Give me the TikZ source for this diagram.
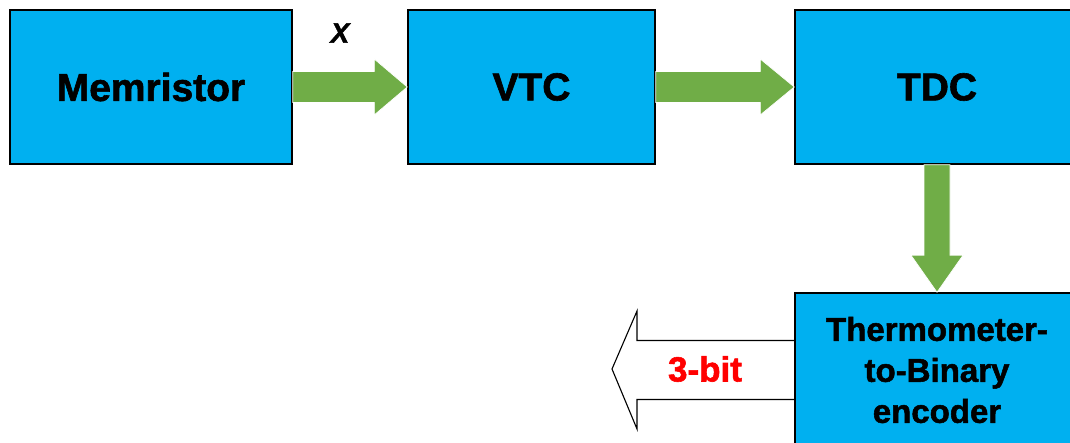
\documentclass[tikz,border=0pt]{standalone}
\usepackage{fontspec}
\setmainfont{Liberation Sans}[BoldFont={Liberation Sans Bold}, BoldItalicFont={Liberation Sans Bold Italic},
  BoldFeatures={FakeBold=1.6}, BoldItalicFeatures={FakeBold=1.6}]
\usetikzlibrary{calc}
\definecolor{boxblue}{HTML}{00B0F0}
\definecolor{arrgreen}{HTML}{70AD47}
\begin{document}
\begin{tikzpicture}[x=1pt,y=-1pt,
  blk/.style={draw=black, line width=1.5pt, fill=boxblue, inner sep=0pt,
    minimum height=154pt, align=center, font=\bfseries\fontsize{39}{44}\selectfont},
  garrow/.style={fill=arrgreen, draw=white, line width=0.7pt},
  harrow/.style={draw=black, line width=1.1pt, fill=white, line join=miter}]
\useasboundingbox (0,0) rectangle (1070,443);
\clip (0,0) rectangle (1070,443);
% hollow output arrow (behind encoder box)
\coordinate (encw) at (795,370);
\draw[harrow] ($(encw)+(0,-29.5)$) -- ($(encw)+(-158,-29.5)$) -- ($(encw)+(-158,-59)$)
  -- ($(encw)+(-183,-1)$) -- ($(encw)+(-158,59)$) -- ($(encw)+(-158,29.5)$) -- ($(encw)+(0,29.5)$);
% blocks
\node[blk, minimum width=282pt] (mem) at (151,87) {Memristor};
\node[blk, minimum width=247pt] (vtc) at (531.5,87) {VTC};
\node[blk, minimum width=284pt] (tdc) at (937,87) {TDC};
\node[blk, minimum width=284pt, font=\bfseries\fontsize{33}{41}\selectfont] (enc) at (937,370)
  {Thermometer-\\to-Binary\hspace{0.28em}\\encoder};
% green block arrows
\filldraw[garrow] ($(mem.east)+(0,-15.5)$) -- ($(vtc.west)+(-33,-15.5)$) -- ($(vtc.west)+(-33,-28)$)
  -- (vtc.west) -- ($(vtc.west)+(-33,28)$) -- ($(vtc.west)+(-33,15.5)$) -- ($(mem.east)+(0,15.5)$) -- cycle;
\filldraw[garrow] ($(vtc.east)+(0,-15.5)$) -- ($(tdc.west)+(-34,-15.5)$) -- ($(tdc.west)+(-34,-28)$)
  -- (tdc.west) -- ($(tdc.west)+(-34,28)$) -- ($(tdc.west)+(-34,15.5)$) -- ($(vtc.east)+(0,15.5)$) -- cycle;
\filldraw[garrow] ($(tdc.south)+(-13,0)$) -- ($(enc.north)+(-13,-37)$) -- ($(enc.north)+(-26,-37)$)
  -- (enc.north) -- ($(enc.north)+(26,-37)$) -- ($(enc.north)+(13,-37)$) -- ($(tdc.south)+(13,0)$) -- cycle;
% labels
\node[font=\bfseries\itshape\fontsize{28}{30}\selectfont] (xl) at (340,33) {X};
\node[text=red, font=\bfseries\fontsize{35}{40}\selectfont] (bits) at (705,369) {3-bit};
\end{tikzpicture}
\end{document}
